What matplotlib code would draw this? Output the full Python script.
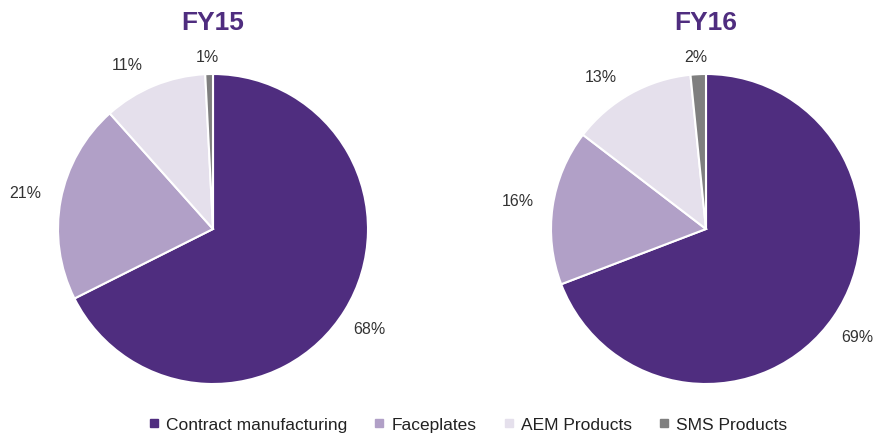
import numpy as np
import matplotlib.pyplot as plt
from matplotlib.lines import Line2D

plt.rcParams["font.family"] = ["Liberation Sans", "DejaVu Sans"]

segments = ["Contract manufacturing", "Faceplates", "AEM Products", "SMS Products"]
colors = ["#4f2d7f", "#b1a0c7", "#e5e0ec", "#7f7f7f"]

fy15_values = [67.6, 20.8, 10.8, 0.8]
fy15_labels = ["68%", "21%", "11%", "1%"]
fy16_values = [69.2, 16.2, 13.0, 1.6]
fy16_labels = ["69%", "16%", "13%", "2%"]

# label placement (radius factor, angular shift in degrees), like the Excel layout
label_radius = [1.2, 1.23, 1.19, 1.11]
label_shift = [-1, 0, 5.5, 0.5]

W, H = 877, 436
R = 155


def draw_pie(cx, cy, values, labels, title):
    ax = fig.add_axes([(cx - R) / W, (H - cy - R) / H, 2 * R / W, 2 * R / H])
    wedges, texts = ax.pie(
        values,
        labels=labels,
        colors=colors,
        startangle=90,
        counterclock=False,
        wedgeprops={"edgecolor": "white", "linewidth": 1.5},
        textprops={"fontsize": 11.5, "color": "#333333"},
    )
    for w, t, rf, sh in zip(wedges, texts, label_radius, label_shift):
        ang = np.deg2rad((w.theta1 + w.theta2) / 2 + sh)
        t.set_position((rf * np.cos(ang), rf * np.sin(ang)))
        t.set_horizontalalignment("center")
        t.set_verticalalignment("center")
    ax.set_xlim(-1, 1)
    ax.set_ylim(-1, 1)
    ax.set_aspect("equal")
    ax.axis("off")
    fig.text(cx / W, 1 - 23 / H, title, ha="center", va="center",
             fontsize=19, fontweight="bold", color="#4f2d7f")


fig = plt.figure(figsize=(W / 100, H / 100), dpi=100)
draw_pie(213, 229, fy15_values, fy15_labels, "FY15")
draw_pie(706, 229, fy16_values, fy16_labels, "FY16")

handles = [
    Line2D([], [], marker="s", linestyle="none", markersize=6,
           markerfacecolor=c, markeredgecolor=c)
    for c in colors
]
fig.legend(handles, segments, loc="center", bbox_to_anchor=(467 / W, 1 - 425 / H),
           ncol=4, frameon=False, fontsize=12.5, handlelength=0.8,
           handletextpad=0.3, columnspacing=1.45, borderaxespad=0,
           labelcolor="#222222")

fig.savefig("out.png", dpi=100)
